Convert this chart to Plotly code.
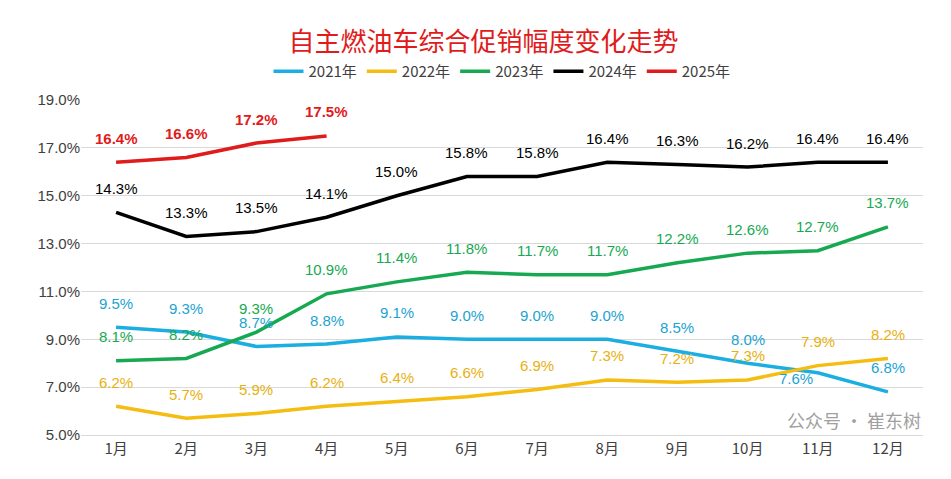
import plotly.graph_objects as go

months = ["1月","2月","3月","4月","5月","6月","7月","8月","9月","10月","11月","12月"]
s2021 = [9.5,9.3,8.7,8.8,9.1,9.0,9.0,9.0,8.5,8.0,7.6,6.8]
s2022 = [6.2,5.7,5.9,6.2,6.4,6.6,6.9,7.3,7.2,7.3,7.9,8.2]
s2023 = [8.1,8.2,9.3,10.9,11.4,11.8,11.7,11.7,12.2,12.6,12.7,13.7]
s2024 = [14.3,13.3,13.5,14.1,15.0,15.8,15.8,16.4,16.3,16.2,16.4,16.4]
s2025 = [16.4,16.6,17.2,17.5]

series = [("2021年", s2021, "#1BAEE0", "#1BA3D0"),
          ("2022年", s2022, "#F5BD12", "#E8B010"),
          ("2023年", s2023, "#16A951", "#16A951"),
          ("2024年", s2024, "#000000", "#000000"),
          ("2025年", s2025, "#E01B1B", "#E01B1B")]

fig = go.Figure()
for name, vals, col, tcol in series:
    fig.add_trace(go.Scatter(
        x=months[:len(vals)], y=vals, name=name, mode="lines",
        line=dict(color=col, width=3.5), cliponaxis=False))
    for i, v in enumerate(vals):
        ys, xs = 24, 0
        if name == "2021年" and i == 10:
            ys, xs = -6, -22
        fig.add_annotation(x=months[i], y=v, text=f"{v:.1f}%", showarrow=False,
                           yshift=ys, xshift=xs,
                           font=dict(color=tcol, size=15, family="Liberation Sans",
                                     weight="bold" if name == "2025年" else "normal"))

fig.update_layout(
    width=951, height=479, paper_bgcolor="white", plot_bgcolor="white",
    margin=dict(l=73, r=36, t=92, b=52, autoexpand=False),
    title=dict(text="自主燃油车综合促销幅度变化走势", x=0.5, xanchor="center",
               y=0.93, yanchor="middle",
               font=dict(size=26, color="#E01B1B", family="Noto Sans CJK SC")),
    legend=dict(orientation="h", x=0.5, xanchor="center", y=1.085, yanchor="middle",
                font=dict(size=15, color="#404040", family="Noto Sans CJK SC")),
    xaxis=dict(type="category", range=[-0.5, 11.5], showgrid=False, showline=True,
               linecolor="#D9D9D9",
               tickfont=dict(size=15, color="#404040", family="Noto Sans CJK SC")),
    yaxis=dict(range=[5, 19], dtick=2, tick0=5, ticksuffix="%", tickformat=".1f",
               showgrid=True, gridcolor="#D9D9D9", zeroline=False,
               tickfont=dict(size=15, color="#404040", family="Liberation Sans")),
    font=dict(family="Liberation Sans"),
)
fig.add_annotation(text="公众号 · 崔东树", xref="paper", yref="paper", x=1.0, y=0.0,
                   xanchor="right", yanchor="bottom", showarrow=False,
                   font=dict(size=18, color="#A0A0A0", family="Noto Sans CJK SC"))
fig.write_html("out.html")
